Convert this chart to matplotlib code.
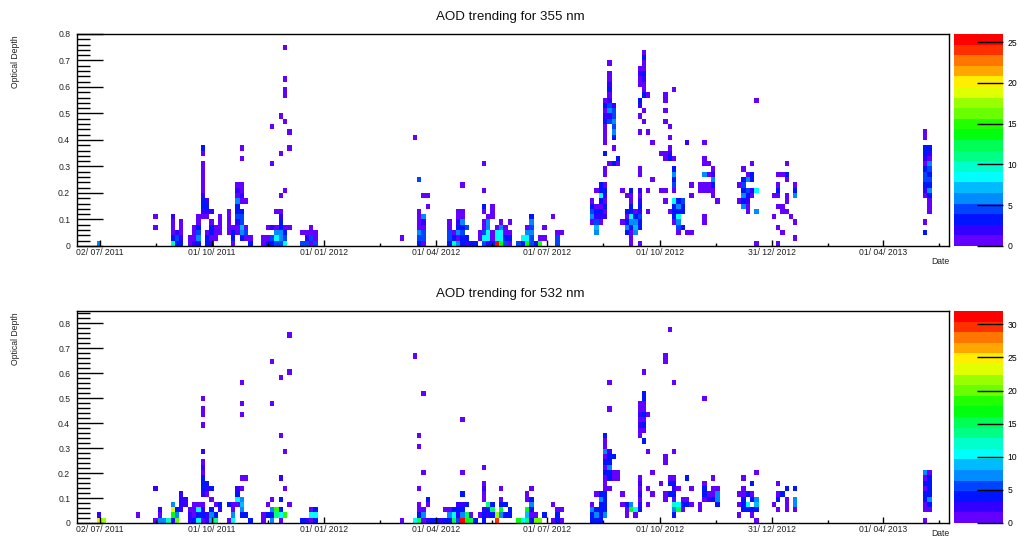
import colorsys
import datetime as dt
import numpy as np
import matplotlib
matplotlib.use("Agg")
import matplotlib.pyplot as plt
from matplotlib.colors import ListedColormap, BoundaryNorm
from matplotlib.ticker import FixedLocator, FixedFormatter

plt.rcParams['font.family'] = ['Liberation Sans', 'DejaVu Sans']

# ------------------------------------------------------------------ data
EPOCH = dt.date(2011, 7, 2)          # day 0 of the time axis
date_tick_labels = ["02/ 07/ 2011", "01/ 10/ 2011", "01/ 01/ 2012", "01/ 04/ 2012",
                    "01/ 07/ 2012", "01/ 10/ 2012", "31/ 12/ 2012", "01/ 04/ 2013"]

# 355 nm : day offset of each populated time bin, and {AOD: number of measurements}
days_355 = [-1, 45, 59, 63, 66, 73, 77, 80, 84, 88, 91, 95, 98, 105, 109, 112, 116, 119, 123,
            133, 137, 140, 144, 147, 151, 155, 165, 169, 172, 176, 246, 257, 260, 264, 267,
            285, 289, 292, 296, 299, 303, 306, 310, 313, 317, 320, 324, 327, 331, 334, 342,
            345, 349, 352, 356, 359, 363, 370, 373, 377, 402, 405, 409, 412, 416, 419, 423,
            426, 430, 433, 437, 440, 444, 447, 451, 458, 461, 465, 469, 472, 476, 479, 483,
            490, 493, 497, 500, 504, 521, 525, 529, 532, 536, 550, 553, 557, 560, 564, 567,
            673, 677]
cells_355 = [
    {.01: 6}, {.07: 1, .11: 1}, {.01: 10, .03: 3, .05: 1, .07: 1, .09: 1, .11: 2},
    {.01: 3, .03: 4, .05: 2}, {.01: 3, .03: 2, .05: 1, .07: 1, .09: 1}, {.01: 1, .03: 1},
    {.01: 2, .03: 1, .05: 1, .07: 1}, {.01: 3, .03: 6, .05: 4, .07: 3, .09: 1, .11: 1},
    {.11: 1, .13: 2, .15: 3, .17: 3, .19: 2, .21: 1, .23: 1, .25: 1, .27: 1, .29: 1, .31: 1, .35: 1, .37: 3},
    {.01: 3, .03: 3, .05: 1, .11: 1, .13: 2, .15: 3, .17: 2},
    {.01: 2, .03: 1, .05: 3, .07: 3, .09: 1, .13: 2}, {.03: 1, .05: 1, .07: 1},
    {.05: 1, .07: 1, .09: 1, .11: 1}, {.05: 1, .07: 1, .09: 1, .11: 1, .13: 1},
    {.01: 1, .03: 3, .05: 3, .07: 1},
    {.05: 1, .07: 1, .09: 2, .11: 4, .13: 3, .15: 3, .17: 6, .19: 1, .21: 2, .23: 1},
    {.03: 3, .05: 6, .07: 7, .09: 4, .11: 4, .13: 3, .17: 1, .19: 2, .21: 1, .23: 1, .33: 1, .37: 1},
    {.03: 1, .05: 4, .07: 1, .17: 1}, {.01: 3, .03: 1},
    {.01: 1, .03: 1}, {.01: 3, .03: 1, .07: 1}, {.01: 3, .03: 4, .07: 2, .31: 1, .45: 1},
    {.01: 4, .03: 9, .05: 6, .07: 1, .13: 1},
    {.01: 4, .03: 6, .05: 6, .07: 3, .09: 3, .11: 2, .13: 1, .19: 1, .35: 1, .49: 1},
    {.01: 8, .03: 4, .05: 3, .07: 1, .21: 1, .47: 1, .57: 1, .59: 1, .63: 1, .75: 1},
    {.07: 1, .37: 1, .43: 1}, {.01: 4, .05: 1}, {.01: 4, .03: 2, .05: 1},
    {.01: 1, .03: 4, .05: 1, .07: 1}, {.01: 4, .03: 1, .05: 1}, {.03: 1}, {.41: 1},
    {.01: 3, .03: 5, .05: 6, .07: 1, .09: 1, .11: 1, .13: 1, .25: 4},
    {.01: 1, .03: 4, .05: 4, .07: 1, .09: 2, .11: 6, .19: 1}, {.15: 1, .19: 1},
    {.01: 3, .03: 4, .05: 4, .07: 1, .09: 1}, {.01: 10, .03: 3, .05: 1},
    {.01: 6, .03: 1, .05: 6, .07: 3, .09: 2, .11: 1, .13: 1},
    {.01: 3, .03: 3, .05: 4, .07: 3, .09: 6, .11: 1, .13: 1, .23: 1},
    {.01: 2, .03: 3, .07: 4}, {.01: 3}, {.01: 3}, {.03: 1, .05: 1},
    {.01: 4, .03: 8, .05: 4, .07: 1, .09: 1, .13: 1, .15: 3, .21: 1, .31: 1},
    {.01: 2, .03: 9, .05: 8, .07: 6, .09: 6, .11: 1},
    {.01: 3, .03: 1, .05: 1, .11: 1, .13: 1, .15: 1}, {.01: 26, .03: 8, .05: 8, .07: 1},
    {.01: 14, .03: 9, .05: 9, .07: 6, .09: 1}, {.01: 4, .03: 3, .05: 1, .07: 1},
    {.01: 1, .03: 3, .05: 1, .09: 1}, {.01: 4}, {.01: 3, .03: 8},
    {.01: 14, .03: 8, .05: 6, .07: 1}, {.01: 4, .03: 4, .05: 6, .07: 4, .09: 6, .11: 3},
    {.01: 3}, {.01: 15, .03: 1}, {.03: 1, .07: 1}, {.11: 1}, {.01: 4, .03: 4, .05: 1}, {.05: 1},
    {.09: 1, .11: 6, .13: 4, .15: 3, .17: 1},
    {.05: 6, .07: 7, .09: 4, .11: 2, .13: 3, .15: 1, .21: 1},
    {.09: 1, .11: 2, .13: 3, .15: 1, .17: 3, .19: 8, .21: 3, .23: 3},
    {.11: 2, .13: 1, .15: 3, .17: 1, .19: 2, .21: 3, .23: 1, .27: 1, .29: 1, .35: 3, .39: 1,
     .41: 1, .43: 1, .45: 1, .47: 3, .49: 2, .51: 1, .53: 3, .55: 1},
    {.31: 1, .47: 4, .49: 2, .51: 6, .53: 4, .55: 2, .57: 1, .59: 3, .61: 2, .63: 1, .65: 1, .69: 1},
    {.31: 3, .37: 1, .41: 3, .43: 6, .45: 4, .47: 6, .49: 4, .51: 4, .53: 2},
    {.31: 1, .33: 3}, {.09: 1, .21: 1}, {.05: 3, .07: 6, .09: 3, .11: 1, .13: 3, .19: 1},
    {.01: 1, .03: 1, .05: 1, .07: 3, .09: 6, .11: 8, .13: 3, .15: 3, .17: 1, .19: 1, .21: 3},
    {.05: 6, .07: 7, .09: 6, .11: 3, .13: 1},
    {.01: 1, .07: 3, .09: 3, .11: 4, .13: 2, .15: 3, .17: 2, .19: 1, .21: 2, .27: 1, .29: 1,
     .43: 1, .49: 1, .53: 2, .55: 3, .61: 1, .63: 1, .65: 2, .67: 1},
    {.47: 1, .51: 1, .57: 3, .59: 1, .61: 1, .63: 2, .65: 3, .67: 1, .69: 1, .71: 3, .73: 1},
    {.13: 1, .21: 1, .43: 1, .57: 1}, {.25: 1, .39: 1}, {.21: 1, .35: 1},
    {.17: 1, .21: 1, .33: 1, .35: 1, .47: 1, .51: 1, .55: 1, .57: 1},
    {.13: 1, .33: 3, .35: 2, .37: 1, .41: 1, .45: 1},
    {.09: 1, .11: 3, .13: 3, .15: 3, .17: 8, .21: 1, .23: 4, .25: 3, .27: 6, .29: 3, .33: 1, .59: 1},
    {.05: 1, .07: 4, .09: 6, .11: 8, .13: 3, .15: 6, .17: 3}, {.07: 3, .13: 3, .15: 3, .17: 4},
    {.05: 1, .39: 2}, {.05: 1, .19: 1, .23: 1}, {.21: 1, .23: 1},
    {.09: 1, .11: 1, .21: 1, .23: 1, .27: 6, .31: 1, .33: 1, .39: 1}, {.21: 1, .23: 1, .27: 1, .31: 1},
    {.19: 1, .21: 1, .23: 3, .25: 6, .27: 2, .29: 1}, {.17: 1}, {.17: 1, .23: 1},
    {.15: 6, .17: 3, .19: 6, .21: 3, .23: 4, .25: 3, .29: 1},
    {.13: 1, .15: 1, .17: 2, .19: 3, .21: 4, .25: 6, .27: 1},
    {.19: 1, .21: 2, .25: 3, .27: 3, .31: 1}, {.01: 1, .13: 6, .21: 8, .55: 1},
    {.11: 1, .19: 1}, {.01: 1, .07: 1, .15: 1, .19: 1, .21: 3, .23: 1, .27: 1},
    {.05: 1, .13: 1, .15: 1, .27: 1}, {.13: 1, .17: 1, .19: 1, .25: 1, .27: 3, .31: 1}, {.11: 1},
    {.03: 1, .09: 1, .19: 6, .21: 3, .23: 1},
    {.05: 3, .09: 1, .19: 1, .21: 2, .23: 3, .25: 4, .27: 4, .29: 3, .31: 1, .33: 2, .35: 3,
     .37: 3, .41: 1, .43: 1},
    {.13: 1, .15: 1, .17: 1, .19: 3, .21: 6, .23: 3, .25: 4, .27: 3, .29: 4, .31: 6, .33: 1,
     .35: 2, .37: 3},
]

# 532 nm
days_532 = [-1, 3, 31, 45, 49, 52, 56, 59, 63, 66, 70, 73, 77, 80, 84, 88, 91, 95, 98, 105, 109,
            112, 116, 119, 123, 133, 137, 140, 144, 147, 151, 155, 165, 169, 172, 176, 246, 257,
            260, 264, 267, 271, 274, 278, 282, 285, 289, 292, 296, 299, 303, 306, 310, 313, 317,
            320, 324, 327, 331, 334, 342, 345, 349, 352, 356, 359, 363, 370, 373, 377, 402, 405,
            409, 412, 416, 419, 423, 426, 430, 433, 437, 440, 444, 447, 451, 458, 461, 465, 469,
            472, 476, 479, 483, 490, 493, 497, 500, 504, 521, 525, 529, 532, 536, 550, 553, 557,
            560, 567, 673, 677]
cells_532 = [
    {.01: 24, .03: 3}, {.01: 21}, {.03: 1}, {.01: 1, .14: 3}, {.01: 7, .03: 1, .05: 3}, {.01: 7},
    {.01: 12}, {.01: 2, .03: 16, .05: 24, .07: 7}, {.01: 20, .03: 7, .05: 4},
    {.05: 3, .07: 3, .09: 3, .12: 3}, {.07: 2, .09: 2}, {.01: 3, .03: 2, .05: 1},
    {.01: 4, .03: 1, .05: 1, .07: 1}, {.01: 10, .03: 4, .05: 10, .07: 1},
    {.01: 1, .03: 4, .05: 3, .07: 1, .12: 3, .14: 4, .16: 4, .18: 4, .20: 1, .22: 2, .24: 1,
     .29: 3, .39: 1, .43: 1, .45: 1, .50: 1},
    {.01: 3, .03: 3, .12: 1, .14: 2, .16: 4}, {.01: 8, .03: 7, .05: 4, .09: 1, .14: 4},
    {.01: 14, .03: 4, .07: 1}, {.05: 3, .07: 4}, {.01: 1, .07: 4}, {.01: 10, .03: 7, .05: 1, .07: 1},
    {.07: 1, .09: 10, .12: 4, .14: 3},
    {.03: 4, .05: 7, .07: 8, .09: 7, .14: 1, .18: 1, .43: 1, .48: 1, .56: 1},
    {.03: 4, .18: 1}, {.01: 4}, {.01: 1, .03: 1}, {.03: 4, .07: 1},
    {.01: 7, .03: 4, .05: 7, .09: 1, .48: 1, .65: 1}, {.03: 14, .05: 18},
    {.01: 1, .03: 10, .05: 4, .09: 4, .18: 3, .35: 1, .58: 1}, {.03: 19, .14: 1, .29: 1},
    {.07: 1, .60: 1, .75: 1}, {.01: 4}, {.01: 3}, {.01: 1, .03: 10, .05: 1},
    {.01: 4, .03: 10, .05: 4}, {.01: 1}, {.01: 10, .67: 1},
    {.01: 15, .03: 4, .05: 1, .07: 1, .14: 1, .31: 1, .35: 1}, {.01: 1, .03: 7, .05: 1, .20: 1, .52: 1},
    {.01: 2, .07: 1, .09: 4}, {.01: 4}, {.01: 4}, {.01: 3}, {.01: 4, .05: 1},
    {.01: 4, .03: 7, .05: 1}, {.01: 15, .03: 10, .05: 4}, {.01: 5, .03: 3, .05: 4, .07: 2},
    {.01: 32, .03: 7, .05: 4, .07: 3, .12: 4, .20: 1, .41: 1}, {.01: 16, .03: 15, .07: 4},
    {.01: 15, .03: 1}, {.01: 4}, {.03: 1},
    {.01: 4, .03: 4, .05: 3, .09: 1, .12: 1, .14: 3, .16: 1, .22: 1}, {.03: 3, .05: 4, .07: 13},
    {.03: 4, .05: 15, .07: 4}, {.01: 30, .03: 21}, {.03: 7, .05: 17, .07: 4, .09: 1, .14: 1},
    {.03: 4, .07: 4}, {.03: 4, .05: 4}, {.01: 16}, {.01: 10},
    {.01: 14, .03: 8, .05: 16, .09: 1, .12: 1}, {.01: 4, .03: 1, .05: 4, .07: 7, .09: 4, .14: 1},
    {.01: 20, .03: 1}, {.01: 20}, {.03: 4}, {.01: 1, .07: 1}, {.01: 4, .03: 4, .05: 1},
    {.01: 1, .05: 1}, {.01: 4, .03: 4, .05: 7, .07: 1}, {.01: 4, .03: 7, .05: 4, .12: 1},
    {.01: 4, .03: 4, .05: 4, .07: 4, .09: 7, .12: 4},
    {.03: 7, .05: 4, .07: 4, .09: 4, .12: 4, .14: 1, .16: 1, .18: 1, .20: 4, .22: 1, .24: 4,
     .26: 1, .29: 7, .31: 1, .33: 1, .35: 4},
    {.14: 1, .18: 4, .20: 4, .22: 7, .24: 4, .26: 4, .29: 3, .45: 1, .56: 1},
    {.18: 1, .20: 1, .26: 4}, {.18: 1, .20: 1}, {.07: 1, .12: 1}, {.03: 1, .05: 1, .07: 4},
    {.05: 16, .07: 7}, {.03: 1, .05: 10},
    {.05: 4, .07: 3, .09: 1, .12: 3, .14: 1, .16: 3, .18: 1, .35: 1, .37: 1, .39: 3, .41: 1,
     .43: 3, .45: 1, .48: 1},
    {.33: 4, .37: 1, .39: 4, .41: 1, .43: 4, .45: 1, .48: 1, .50: 4, .52: 4, .60: 1},
    {.07: 1, .14: 1, .29: 1, .43: 1}, {.12: 1, .20: 1}, {.16: 1},
    {.09: 1, .12: 1, .24: 1, .26: 1, .65: 1, .67: 1}, {.12: 4, .16: 4, .18: 1, .77: 1},
    {.03: 4, .05: 7, .07: 12, .09: 1, .12: 4, .14: 3, .16: 4, .18: 1, .29: 1, .56: 1},
    {.05: 15, .07: 10, .14: 1}, {.05: 1, .07: 4, .09: 1}, {.07: 4, .09: 1, .18: 4},
    {.07: 1, .14: 1}, {.05: 1, .07: 1}, {.09: 1, .12: 4, .14: 4, .16: 1, .50: 1},
    {.09: 3, .12: 1}, {.09: 4, .12: 1, .14: 1, .18: 1}, {.07: 4, .09: 7, .12: 7, .14: 1},
    {.03: 1, .07: 1, .12: 1}, {.05: 4, .07: 4, .09: 4, .12: 1, .14: 1, .18: 1},
    {.05: 4, .07: 10, .12: 4}, {.03: 1, .05: 4, .09: 4, .12: 1, .16: 4},
    {.01: 1, .05: 4, .07: 8, .09: 7, .20: 1}, {.07: 1}, {.05: 1, .09: 4, .12: 1, .16: 1},
    {.12: 4}, {.05: 1, .07: 1, .09: 1, .14: 4}, {.05: 1, .07: 7, .09: 7, .14: 4},
    {.01: 1, .05: 1, .07: 1, .09: 4, .12: 4, .14: 1, .16: 4, .18: 1, .20: 7},
    {.05: 1, .07: 4, .09: 7, .12: 4, .14: 4, .16: 4, .18: 4, .20: 1},
]

titles = ["AOD trending for 355 nm", "AOD trending for 532 nm"]
aod_ranges = [0.80, 0.85]
cbar_tick_values = [[0, 5, 10, 15, 20, 25], [0, 5, 10, 15, 20, 25, 30]]

# histogram binning (ROOT TH2): 202 time bins, 40 AOD bins
X_FIRST_EDGE, X_BIN_DAYS, N_XBINS = -20.09, 3.528, 202
N_YBINS = 40
X_LIMITS = (-19.17, 692.7)

# ROOT "pretty" palette (50 HLS colours, violet -> red) sampled on 20 contour levels
pal50 = [colorsys.hls_to_rgb((280 - (i + 1) * 5.6) / 360.0, 0.5, 1.0) for i in range(50)]
NLEV = 20
level_colors = [pal50[int((k + 0.99) * 50 / NLEV)] for k in range(NLEV)]
cmap = ListedColormap(level_colors)
cmap.set_over(level_colors[-1])

# ------------------------------------------------------------------ figure
W, H = 1018, 540
fig = plt.figure(figsize=(W / 100, H / 100), dpi=100)


def fx(px):
    return px / W


def fy(py):
    return 1 - py / H


axes_px = [(34, 246), (311, 523)]
date_label_y = [262, 534]
FS = 6.2
tick_days = [(dt.datetime.strptime(s.replace(" ", ""), "%d/%m/%Y").date() - EPOCH).days
             for s in date_tick_labels]
minor_days = [d + 45.7 for d in tick_days]

for p, (days, cells) in enumerate([(days_355, cells_355), (days_532, cells_532)]):
    top, bot = axes_px[p]
    ax = fig.add_axes([fx(76.5), fy(bot), fx(949) - fx(76.5), (bot - top) / H])
    cax = fig.add_axes([fx(954), fy(bot), fx(1003) - fx(954), (bot - top) / H])

    xs, ys, ws = [], [], []
    for d, col in zip(days, cells):
        for a, n in col.items():
            xs.append(d)
            ys.append(a)
            ws.append(n)
    xedges = X_FIRST_EDGE + X_BIN_DAYS * np.arange(N_XBINS + 1)
    yedges = np.linspace(0, aod_ranges[p], N_YBINS + 1)
    Hh, xe, ye = np.histogram2d(xs, ys, bins=[xedges, yedges], weights=ws)
    Hm = np.ma.masked_where(Hh <= 0, Hh)
    zmax = Hh.max()
    norm = BoundaryNorm(np.linspace(0, zmax, NLEV + 1), NLEV)
    mesh = ax.pcolormesh(xe, ye, Hm.T, cmap=cmap, norm=norm, shading='flat',
                         edgecolors='none', antialiased=False)

    ax.set_xlim(*X_LIMITS)
    ax.set_ylim(0, aod_ranges[p])
    for s in ax.spines.values():
        s.set_linewidth(1.0)

    ax.xaxis.set_major_locator(FixedLocator(tick_days))
    ax.xaxis.set_major_formatter(FixedFormatter(date_tick_labels))
    ax.xaxis.set_minor_locator(FixedLocator(minor_days))
    yt = np.round(np.arange(0, aod_ranges[p] + 1e-9, 0.1), 2)
    ax.yaxis.set_major_locator(FixedLocator(yt))
    ax.yaxis.set_major_formatter(FixedFormatter(["%g" % v for v in yt]))
    ax.yaxis.set_minor_locator(FixedLocator(np.arange(0, aod_ranges[p] + 1e-9, 0.02)))
    ax.tick_params(axis='x', which='major', direction='in', length=4.3, width=1.0,
                   top=False, labelsize=FS, pad=1.5, colors='black')
    ax.tick_params(axis='x', which='minor', direction='in', length=2.2, width=1.0, top=False)
    ax.tick_params(axis='y', which='major', direction='in', length=18.8, width=1.0,
                   right=False, labelsize=FS, pad=4.5)
    ax.tick_params(axis='y', which='minor', direction='in', length=9.4, width=1.0, right=False)
    for lab in ax.get_xticklabels() + ax.get_yticklabels():
        lab.set_color('#222222')

    cb = fig.colorbar(mesh, cax=cax, ticks=cbar_tick_values[p])
    cb.outline.set_visible(False)
    cb.minorticks_off()
    cax.yaxis.set_ticks_position('right')
    cax.tick_params(axis='y', direction='in', length=18.5, width=1.0, labelsize=FS, pad=3)
    cax.set_yticklabels([str(v) for v in cbar_tick_values[p]])

    fig.text(fx(510), fy(top - 17), titles[p], ha='center', va='center', fontsize=9.6,
             color='#111111')
    fig.text(fx(15), fy(top + 1), "Optical Depth", rotation=90, ha='center', va='top',
             fontsize=FS, color='#222222')
    fig.text(fx(949), fy(date_label_y[p]), "Date", ha='right', va='center', fontsize=FS,
             color='#222222')

fig.savefig("out.png", dpi=100)
